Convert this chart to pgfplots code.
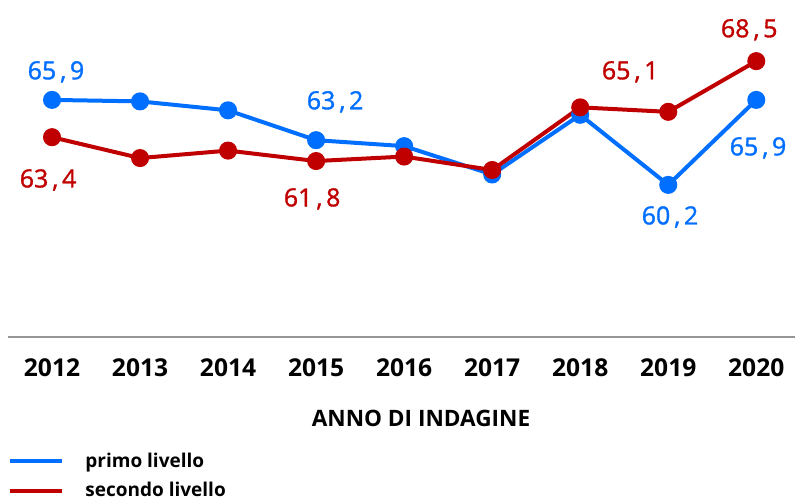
\documentclass[border=0pt]{standalone}
\usepackage{fontspec}
\setmainfont{Open Sans}
\newfontfamily\labelfont[FakeBold=1.3]{Open Sans}
\usepackage{pgfplots}
\pgfplotsset{compat=1.18}
\definecolor{primo}{RGB}{0,110,255}
\definecolor{secondo}{RGB}{192,0,0}
\definecolor{asse}{RGB}{150,150,150}
\newcommand{\val}[2]{#1\kern2pt,\kern1.8pt#2}

\begin{document}
\begin{tikzpicture}
\clip (0,0) rectangle (397.5pt,248.5pt);
\begin{axis}[
  at={(4pt,80pt)}, anchor=south west,
  scale only axis, width=393.5pt, height=168.5pt,
  xmin=-0.5, xmax=8.44, ymin=50, ymax=72.6,
  axis x line*=bottom, axis y line=none,
  x axis line style={asse, line width=0.6pt, -},
  xtick={0,...,8},
  xticklabels={2012,2013,2014,2015,2016,2017,2018,2019,2020},
  major tick length=0pt,
  xticklabel style={anchor=base, yshift=-19.5pt, font=\fontsize{12.3}{14}\selectfont\bfseries},
  legend style={at={(0,-0.33)}, anchor=north west, draw=none, fill=none,
    inner sep=0pt, font=\fontsize{9.5}{12}\selectfont\bfseries, row sep=2pt,
    /tikz/every even column/.append style={column sep=0pt}},
  legend cell align=left,
  legend image code/.code={\draw[#1, line width=2pt] (0pt,0pt) -- (26pt,0pt);},
]
\addplot[primo, line width=2pt, mark=*, mark size=3.5pt] coordinates {
  (0,65.9) (1,65.8) (2,65.2) (3,63.2) (4,62.8) (5,60.9) (6,64.9) (7,60.2) (8,65.9)};
\addplot[secondo, line width=2pt, mark=*, mark size=3.5pt] coordinates {
  (0,63.4) (1,62.0) (2,62.5) (3,61.8) (4,62.1) (5,61.2) (6,65.4) (7,65.1) (8,68.5)};
\legend{\hspace{8.5pt}primo livello, \hspace{8.5pt}secondo livello}
\begin{scope}[every node/.style={font=\labelfont\fontsize{12.5}{14}\selectfont, anchor=center}]
\node[primo] at (axis cs:0.045,67.78) {\val{65}{9}};
\node[secondo] at (axis cs:-0.045,60.53) {\val{63}{4}};
\node[primo] at (axis cs:3.216,65.77) {\val{63}{2}};
\node[secondo] at (axis cs:2.955,59.26) {\val{61}{8}};
\node[secondo] at (axis cs:6.568,67.78) {\val{65}{1}};
\node[secondo] at (axis cs:7.92,70.6) {\val{68}{5}};
\node[primo] at (axis cs:7.02,58.05) {\val{60}{2}};
\node[primo] at (axis cs:8.02,62.68) {\val{65}{9}};
\end{scope}
\end{axis}
\node[anchor=base, font=\fontsize{11.3}{14}\selectfont\bfseries] at (210.5pt,35.5pt) {ANNO DI INDAGINE};
\end{tikzpicture}
\end{document}
